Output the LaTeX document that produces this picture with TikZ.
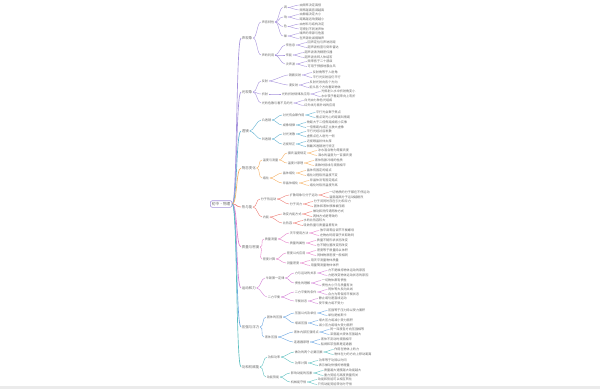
\documentclass[tikz,border=0pt]{standalone}
\usepackage{fontspec}
\newfontfamily\cjk{Noto Sans CJK SC}
\definecolor{purp}{RGB}{166,146,220}
\definecolor{sky}{RGB}{96,178,210}
\definecolor{amber}{RGB}{246,178,102}
\definecolor{coral}{RGB}{238,124,116}
\definecolor{rose}{RGB}{230,130,202}
\definecolor{orchid}{RGB}{212,132,216}
\definecolor{azure}{RGB}{108,166,226}
\definecolor{aqua}{RGB}{92,192,192}
\definecolor{ink}{RGB}{105,105,105}

\begin{document}
\begin{tikzpicture}[
  x=1pt, y=-1pt,
  every node/.style={anchor=west, inner sep=0.6pt, text=ink, font=\cjk\fontsize{3.1}{3.6}\selectfont},
  root/.style={draw=purp, rounded corners=2pt, line width=0.6pt, inner sep=1.6pt, font=\cjk\fontsize{3.7}{4.2}\selectfont},
  chap/.style={font=\cjk\fontsize{3.5}{4}\selectfont},
  link/.style={out=0, in=180, distance=4pt, line width=0.4pt},
  trunk/.style={link, line width=0.65pt, distance=5pt}
]
\fill[white] (0,0) rectangle (600,389);
\fill[black!8] (0,385.5) rectangle (600,389);
\useasboundingbox (0,0) rectangle (600,389);

\node[root] (root) at (210,204) {初中·物理};

% chapter 1
\begin{scope}[link/.append style={draw=purp}]
\node[chap] (g1) at (241,38) {声现象};
\node (g1a) at (261,22) {声音特性};
\node (g1b) at (261,55) {声的利用};
\node (g1a1) at (283,7.5) {调};
\node (g1a2) at (283,17) {响};
\node (g1a3) at (283,26.5) {色};
\node (g1a4) at (283,36) {噪};
\node (g1b1) at (285,45) {传信息};
\node (g1b2) at (285,55) {传能};
\node (g1b3) at (285,64) {次声波};
\draw[trunk] (root.east) to (g1.west);
\draw[link] (g1.east) to (g1a.west);
\draw[link] (g1.east) to (g1b.west);
\draw[link] (g1a.east) to (g1a1.west);
\draw[link] (g1a.east) to (g1a2.west);
\draw[link] (g1a.east) to (g1a3.west);
\draw[link] (g1a.east) to (g1a4.west);
\draw[link] (g1b.east) to (g1b1.west);
\draw[link] (g1b.east) to (g1b2.west);
\draw[link] (g1b.east) to (g1b3.west);
\foreach \pa/\dy/\tx [count=\k] in {
  g1a1/2.4/由频率决定高低, g1a1/-2.4/频率越高音调越高,
  g1a2/2.4/由振幅决定大小, g1a2/-2.4/距离越远响度越小,
  g1a3/2.4/由材料与结构决定, g1a3/-2.4/可辨别不同发声体,
  g1a4/2.4/噪声的来源与危害, g1a4/-2.4/在声源处减弱噪声,
  g1b1/2.4/回声定位与声呐测距, g1b1/-2.4/超声波检查与倒车雷达,
  g1b2/2.4/超声波清洗精密仪器, g1b2/-2.4/超声波击碎人体结石,
  g1b3/2.4/频率低于二十赫兹, g1b3/-2.4/可用于预报地震台风}
{\node (\pa-\k) at ([xshift=11pt, yshift=\dy pt]\pa.east) {\tx};
 \draw[link] (\pa.east) to (\pa-\k.west);}
\end{scope}

% chapter 2
\begin{scope}[link/.append style={draw=purp}]
\node[chap] (g2) at (241,92) {光现象};
\node (g2a) at (261,81) {反射};
\node (g2b) at (261,94) {折射};
\node (g2c) at (261,103) {光的色散与看不见的光};
\node (g2a1) at (288,75) {镜面反射};
\node (g2a2) at (288,85) {漫反射};
\node (g2b1) at (281,94) {光的折射规律及应用};
\draw[trunk] (root.east) to (g2.west);
\draw[link] (g2.east) to (g2a.west);
\draw[link] (g2.east) to (g2b.west);
\draw[link] (g2.east) to (g2c.west);
\draw[link] (g2a.east) to (g2a1.west);
\draw[link] (g2a.east) to (g2a2.west);
\draw[link] (g2b.east) to (g2b1.west);
\foreach \pa/\dy/\tx [count=\k] in {
  g2a1/2.4/反射角等于入射角, g2a1/-2.4/平行光反射后仍平行,
  g2a2/2.4/反射光射向各个方向, g2a2/-2.4/能从各个方向看到物体,
  g2b1/2.4/光斜射入水中折射角变小, g2b1/-2.4/水中筷子看起来向上弯折,
  g2c/2.4/白光由七种色光组成, g2c/-2.4/红外线与紫外线的应用}
{\node (\pa-\k) at ([xshift=10pt, yshift=\dy pt]\pa.east) {\tx};
 \draw[link] (\pa.east) to (\pa-\k.west);}
\end{scope}

% chapter 3
\begin{scope}[link/.append style={draw=sky}]
\node[chap] (g3) at (241,131) {透镜};
\node (g3a) at (261,120) {凸透镜};
\node (g3b) at (261,139) {凹透镜};
\node (g3a1) at (282,115) {对光有会聚作用};
\node (g3a2) at (282,125) {成像规律};
\node (g3b1) at (282,134) {对光发散};
\node (g3b2) at (282,144) {近视矫正};
\draw[trunk] (root.east) to (g3.west);
\draw[link] (g3.east) to (g3a.west);
\draw[link] (g3.east) to (g3b.west);
\draw[link] (g3a.east) to (g3a1.west);
\draw[link] (g3a.east) to (g3a2.west);
\draw[link] (g3b.east) to (g3b1.west);
\draw[link] (g3b.east) to (g3b2.west);
\foreach \pa/\dy/\tx [count=\k] in {
  g3a1/2.4/平行光会聚于焦点, g3a1/-2.4/焦点到光心的距离叫焦距,
  g3a2/2.4/物距大于二倍焦距成缩小实像, g3a2/-2.4/一倍焦距内成正立放大虚像,
  g3b1/2.4/平行光经过后发散, g3b1/-2.4/虚焦点在入射光一侧,
  g3b2/2.4/近视眼晶状体太厚, g3b2/-2.4/佩戴凹透镜进行矫正}
{\node (\pa-\k) at ([xshift=10pt, yshift=\dy pt]\pa.east) {\tx};
 \draw[link] (\pa.east) to (\pa-\k.west);}
\end{scope}

% chapter 4
\begin{scope}[link/.append style={draw=amber}]
\node[chap] (g4) at (241,168) {物态变化};
\node (g4a) at (262,160) {温度与测量};
\node (g4b) at (262,178) {熔化};
\node (g4a1) at (287,153) {摄氏温度规定};
\node (g4a2) at (287,163) {温度计原理};
\node (g4b1) at (282,173) {晶体熔化};
\node (g4b2) at (282,183) {非晶体熔化};
\draw[trunk] (root.east) to (g4.west);
\draw[link] (g4.east) to (g4a.west);
\draw[link] (g4.east) to (g4b.west);
\draw[link] (g4a.east) to (g4a1.west);
\draw[link] (g4a.east) to (g4a2.west);
\draw[link] (g4b.east) to (g4b1.west);
\draw[link] (g4b.east) to (g4b2.west);
\foreach \pa/\dy/\tx [count=\k] in {
  g4a1/2.4/冰水混合物为零摄氏度, g4a1/-2.4/沸水的温度为一百摄氏度,
  g4a2/2.4/液体热胀冷缩的性质, g4a2/-2.4/读数时视线与液面相平,
  g4b1/2.4/晶体有固定的熔点, g4b1/-2.4/熔化过程吸热温度不变,
  g4b2/2.4/非晶体没有固定熔点, g4b2/-2.4/熔化时吸热温度升高}
{\node (\pa-\k) at ([xshift=10pt, yshift=\dy pt]\pa.east) {\tx};
 \draw[link] (\pa.east) to (\pa-\k.west);}
\end{scope}

% chapter 5
\begin{scope}[link/.append style={draw=coral}]
\node[chap] (g5) at (241,207) {热与能};
\node (g5a) at (260,199) {分子热运动};
\node (g5b) at (262,217) {内能};
\node (g5a1) at (289,195) {扩散现象与分子运动};
\node (g5a2) at (289,204) {分子间力};
\node (g5b1) at (282,214) {改变内能方式};
\node (g5b2) at (282,223) {比热容};
\draw[trunk] (root.east) to (g5.west);
\draw[link] (g5.east) to (g5a.west);
\draw[link] (g5.east) to (g5b.west);
\draw[link] (g5a.east) to (g5a1.west);
\draw[link] (g5a.east) to (g5a2.west);
\draw[link] (g5b.east) to (g5b1.west);
\draw[link] (g5b.east) to (g5b2.west);
\foreach \pa/\dy/\tx [count=\k] in {
  g5a1/2.4/一切物质的分子都在不停运动, g5a1/-2.4/温度越高分子运动越剧烈,
  g5a2/2.4/分子间同时存在引力和斥力, g5a2/-2.4/固体和液体很难被压缩,
  g5b1/2.4/做功和热传递两种方式, g5b1/-2.4/两种方式是等效的,
  g5b2/2.4/水的比热容较大, g5b2/-2.4/吸收热量与质量温差有关}
{\node (\pa-\k) at ([xshift=10pt, yshift=\dy pt]\pa.east) {\tx};
 \draw[link] (\pa.east) to (\pa-\k.west);}
\end{scope}

% chapter 6
\begin{scope}[link/.append style={draw=rose}]
\node[chap] (g6) at (241,247) {质量与密度};
\node (g6a) at (264,239) {质量测量};
\node (g6b) at (262,259) {密度计算};
\node (g6a1) at (289,233) {天平使用方法};
\node (g6a2) at (289,243) {质量的属性};
\node (g6b1) at (286,253) {密度公式应用};
\node (g6b2) at (286,263) {测量密度};
\draw[trunk] (root.east) to (g6.west);
\draw[link] (g6.east) to (g6a.west);
\draw[link] (g6.east) to (g6b.west);
\draw[link] (g6a.east) to (g6a1.west);
\draw[link] (g6a.east) to (g6a2.west);
\draw[link] (g6b.east) to (g6b1.west);
\draw[link] (g6b.east) to (g6b2.west);
\foreach \pa/\dy/\tx [count=\k] in {
  g6a1/2.4/放平调零后调节平衡螺母, g6a1/-2.4/左物右码用镊子夹取砝码,
  g6a2/2.4/质量不随形状状态改变, g6a2/-2.4/也不随位置改变而改变,
  g6b1/2.4/密度等于质量除以体积, g6b1/-2.4/同种物质密度一般相同,
  g6b2/2.4/用天平测量物体质量, g6b2/-2.4/用量筒测量物体体积}
{\node (\pa-\k) at ([xshift=10pt, yshift=\dy pt]\pa.east) {\tx};
 \draw[link] (\pa.east) to (\pa-\k.west);}
\end{scope}

% chapter 7
\begin{scope}[link/.append style={draw=orchid}]
\node[chap] (g7) at (241,288) {运动和力};
\node (g7a) at (265,278) {牛顿第一定律};
\node (g7b) at (267,297) {二力平衡};
\node (g7a1) at (294,273) {力与运动的关系};
\node (g7a2) at (294,283) {惯性的理解};
\node (g7b1) at (294,292) {二力平衡的条件};
\node (g7b2) at (294,301) {平衡状态};
\draw[trunk] (root.east) to (g7.west);
\draw[link] (g7.east) to (g7a.west);
\draw[link] (g7.east) to (g7b.west);
\draw[link] (g7a.east) to (g7a1.west);
\draw[link] (g7a.east) to (g7a2.west);
\draw[link] (g7b.east) to (g7b1.west);
\draw[link] (g7b.east) to (g7b2.west);
\foreach \pa/\dy/\tx [count=\k] in {
  g7a1/2.4/力不是维持物体运动的原因, g7a1/-2.4/力是改变物体运动状态的原因,
  g7a2/2.4/一切物体都有惯性, g7a2/-2.4/惯性大小只与质量有关,
  g7b1/2.4/同体等大反向共线, g7b1/-2.4/合力为零保持平衡状态,
  g7b2/2.4/静止或匀速直线运动, g7b2/-2.4/受平衡力或不受力}
{\node (\pa-\k) at ([xshift=10pt, yshift=\dy pt]\pa.east) {\tx};
 \draw[link] (\pa.east) to (\pa-\k.west);}
\end{scope}

% chapter 8
\begin{scope}[link/.append style={draw=azure}]
\node[chap] (g8) at (241,327) {压强与浮力};
\node (g8a) at (266,317) {固体的压强};
\node (g8b) at (264,337) {液体压强};
\node (g8a1) at (294,313) {压强公式及单位};
\node (g8a2) at (294,323) {增减压强};
\node (g8b1) at (293,332) {液体内部压强特点};
\node (g8b2) at (293,342) {连通器原理};
\draw[trunk] (root.east) to (g8.west);
\draw[link] (g8.east) to (g8a.west);
\draw[link] (g8.east) to (g8b.west);
\draw[link] (g8a.east) to (g8a1.west);
\draw[link] (g8a.east) to (g8a2.west);
\draw[link] (g8b.east) to (g8b1.west);
\draw[link] (g8b.east) to (g8b2.west);
\foreach \pa/\dy/\tx [count=\k] in {
  g8a1/2.4/压强等于压力除以受力面积, g8a1/-2.4/单位是帕斯卡,
  g8a2/2.4/增大压力或减小受力面积, g8a2/-2.4/减小压力或增大受力面积,
  g8b1/2.4/同一深度各方向压强相等, g8b1/-2.4/深度越大液体压强越大,
  g8b2/2.4/液体不流动时液面相平, g8b2/-2.4/船闸和茶壶都是连通器}
{\node (\pa-\k) at ([xshift=10pt, yshift=\dy pt]\pa.east) {\tx};
 \draw[link] (\pa.east) to (\pa-\k.west);}
\end{scope}

% chapter 9
\begin{scope}[link/.append style={draw=aqua}]
\node[chap] (g9) at (241,367) {功和机械能};
\node (g9a) at (267,357) {功和功率};
\node (g9b) at (266,377) {动能势能};
\node (g9a1) at (294,352) {做功的两个必要因素};
\node (g9a2) at (294,363) {功率计算};
\node (g9b1) at (290,373) {影响动能的因素};
\node (g9b2) at (290,382) {机械能守恒};
\draw[trunk] (root.east) to (g9.west);
\draw[link] (g9.east) to (g9a.west);
\draw[link] (g9.east) to (g9b.west);
\draw[link] (g9a.east) to (g9a1.west);
\draw[link] (g9a.east) to (g9a2.west);
\draw[link] (g9b.east) to (g9b1.west);
\draw[link] (g9b.east) to (g9b2.west);
\foreach \pa/\dy/\tx [count=\k] in {
  g9a1/2.4/作用在物体上的力, g9a1/-2.4/物体在力的方向上移动距离,
  g9a2/2.4/功率等于功除以时间, g9a2/-2.4/表示做功快慢的物理量,
  g9b1/2.4/质量越大速度越大动能越大, g9b1/-2.4/重力势能与高度质量有关,
  g9b2/2.4/动能和势能可以相互转化, g9b2/-2.4/只有动能势能转化时守恒}
{\node (\pa-\k) at ([xshift=10pt, yshift=\dy pt]\pa.east) {\tx};
 \draw[link] (\pa.east) to (\pa-\k.west);}
\end{scope}
\end{tikzpicture}
\end{document}
